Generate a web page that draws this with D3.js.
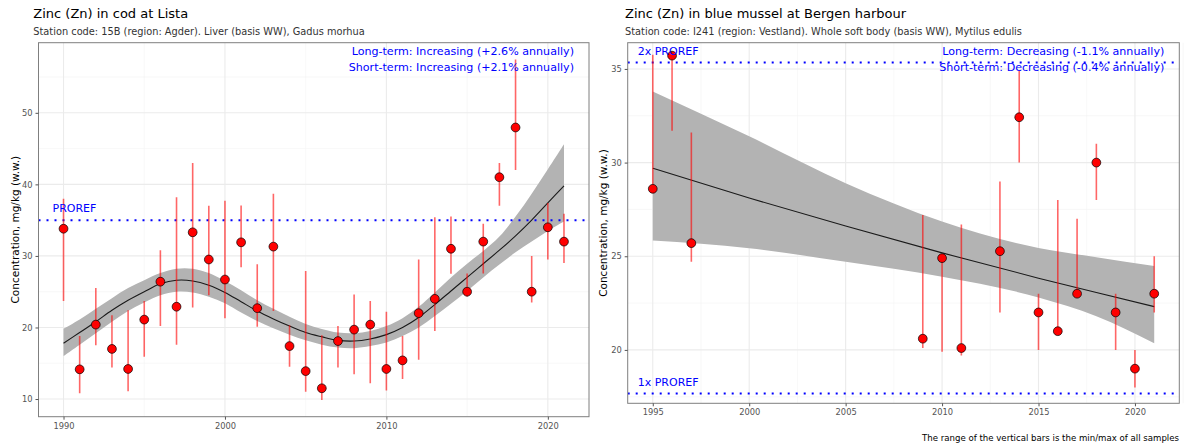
<!DOCTYPE html>
<html>
<head>
<meta charset="utf-8">
<script src="https://cdn.jsdelivr.net/npm/d3@7"></script>
<style>
  html, body { margin: 0; padding: 0; background: #fff; }
  svg { display: block; font-family: "DejaVu Sans", sans-serif; }
</style>
</head>
<body>
<svg id="chart" width="1185" height="445"></svg>
<script>
// ---- Cod, Lista (15B): annual medians with min/max of samples ----
const codYears  = [1990,1991,1992,1993,1994,1995,1996,1997,1998,1999,2000,2001,2002,2003,2004,2005,
                   2006,2007,2008,2009,2010,2011,2012,2013,2014,2015,2016,2017,2018,2019,2020,2021];
const codMedian = [33.8,14.15,20.4,17.0,14.2,21.1,26.4,22.9,33.3,29.5,26.7,31.9,22.7,31.3,17.4,13.9,
                   11.5,18.1,19.7,20.4,14.2,15.4,22.0,24.0,31.0,25.0,32.0,41.0,47.95,25.0,34.0,32.0];
const codMin    = [23.7,10.8,17.5,14.4,11.1,15.9,20.2,17.6,22.8,24.5,21.3,28.4,20.1,22.3,14.5,11.0,
                   9.86,14.4,13.45,12.2,11.2,12.8,15.5,19.5,27.5,24.3,27.55,37.0,42.0,23.5,29.5,29.0];
const codMax    = [38.0,18.8,25.5,21.7,22.4,23.7,30.8,38.2,43.0,37.0,37.7,37.05,28.85,38.7,20.3,27.9,
                   18.9,20.2,24.6,23.7,22.2,18.8,29.5,35.4,35.5,27.55,34.5,43.0,57.45,30.0,37.4,35.9];
// smoothed trend and its confidence band
const codFit    = [17.8,19.3,20.8,22.4,23.8,25.0,26.1,26.6,26.5,25.9,24.9,23.6,22.3,21.2,20.2,19.3,
                   18.7,18.2,18.1,18.4,19.0,20.0,21.4,23.2,25.1,27.0,28.9,30.8,32.8,35.0,37.4,39.8];
const codFitLo  = [16.0,17.6,19.2,20.8,22.3,23.5,24.5,25.0,24.9,24.3,23.4,22.1,20.9,19.9,19.0,18.2,
                   17.6,17.2,17.1,17.4,17.9,18.8,20.0,21.6,23.3,25.1,27.0,28.8,30.5,32.0,33.5,34.8];
const codFitHi  = [19.8,21.1,22.6,24.1,25.5,26.6,27.6,28.2,28.2,27.6,26.5,25.2,23.8,22.6,21.5,20.5,
                   19.8,19.3,19.2,19.5,20.2,21.3,22.9,24.9,27.0,28.9,30.7,32.7,35.5,38.7,42.1,45.6];

// ---- Blue mussel, Bergen harbour (I241) ----
const musYears  = [1995,1996,1997,2009,2010,2011,2013,2014,2015,2016,2017,2018,2019,2020,2021];
const musMedian = [28.6,35.71,25.7,20.6,24.9,20.1,25.27,32.42,22.0,21.0,23.0,30.0,22.0,19.0,23.0];
const musMin    = [28.5,31.7,24.7,20.1,19.9,19.7,22.0,30.0,20.0,20.9,22.9,28.0,20.0,18.0,22.0];
const musMax    = [35.76,35.76,31.6,27.2,24.9,26.7,28.99,34.9,23.0,28.0,27.0,31.0,23.0,20.0,25.0];
const musFitYears = [1995,2000,2005,2010,2015,2018,2021];
const musFit      = [29.70,28.11,26.61,25.18,23.83,23.06,22.31];
const musFitLo    = [25.84,25.43,24.70,23.90,22.80,21.80,20.36];
const musFitHi    = [33.79,31.40,28.90,26.86,25.44,24.95,24.48];

// ---- texts and reference levels ----
const codTitle    = "Zinc (Zn) in cod at Lista";
const codSubtitle = "Station code: 15B (region: Agder). Liver (basis WW), Gadus morhua";
const codTrends   = ["Long-term: Increasing (+2.6% annually)", "Short-term: Increasing (+2.1% annually)"];
const codProref   = [{value: 35.0, label: "PROREF"}];
const codXTicks   = [1990, 2000, 2010, 2020];
const codYTicks   = [10, 20, 30, 40, 50];

const musTitle    = "Zinc (Zn) in blue mussel at Bergen harbour";
const musSubtitle = "Station code: I241 (region: Vestland). Whole soft body (basis WW), Mytilus edulis";
const musTrends   = ["Long-term: Decreasing (-1.1% annually)", "Short-term: Decreasing (-0.4% annually)"];
const musProref   = [{value: 35.34, label: "2x PROREF"}, {value: 17.67, label: "1x PROREF"}];
const musXTicks   = [1995, 2000, 2005, 2010, 2015, 2020];
const musYTicks   = [20, 25, 30, 35];

const yTitle  = "Concentration, mg/kg (w.w.)";
const caption = "The range of the vertical bars is the min/max of all samples";

const svg = d3.select("#chart");
svg.append("rect").attr("width", 1185).attr("height", 445).attr("fill", "#fff");

function panel(cfg) {
  const x = d3.scaleLinear().domain(cfg.xDomain).range([cfg.left, cfg.right]);
  const y = d3.scaleLinear().domain(cfg.yDomain).range([cfg.bottom, cfg.top]);
  const g = svg.append("g");

  // titles
  g.append("text").attr("x", cfg.titleX).attr("y", 18).attr("font-size", 13)
    .attr("fill", "#000").text(cfg.title);
  g.append("text").attr("x", cfg.titleX).attr("y", 34.5).attr("font-size", 9.8)
    .attr("fill", "#333").text(cfg.subtitle);

  // grid
  const grid = g.append("g");
  cfg.xMinor.forEach(v => grid.append("line").attr("x1", x(v)).attr("x2", x(v))
    .attr("y1", cfg.top).attr("y2", cfg.bottom).attr("stroke", "#F4F4F4").attr("stroke-width", 0.6));
  cfg.yMinor.forEach(v => grid.append("line").attr("y1", y(v)).attr("y2", y(v))
    .attr("x1", cfg.left).attr("x2", cfg.right).attr("stroke", "#F4F4F4").attr("stroke-width", 0.6));
  cfg.xTicks.forEach(v => grid.append("line").attr("x1", x(v)).attr("x2", x(v))
    .attr("y1", cfg.top).attr("y2", cfg.bottom).attr("stroke", "#EBEBEB").attr("stroke-width", 1.1));
  cfg.yTicks.forEach(v => grid.append("line").attr("y1", y(v)).attr("y2", y(v))
    .attr("x1", cfg.left).attr("x2", cfg.right).attr("stroke", "#EBEBEB").attr("stroke-width", 1.1));

  const clip = "clip-" + cfg.id;
  svg.append("clipPath").attr("id", clip).append("rect")
    .attr("x", cfg.left).attr("y", cfg.top)
    .attr("width", cfg.right - cfg.left).attr("height", cfg.bottom - cfg.top);
  const plot = g.append("g").attr("clip-path", `url(#${clip})`);

  // confidence band and trend line
  const band = cfg.fitYears.map((yr, i) => ({yr, lo: cfg.fitLo[i], hi: cfg.fitHi[i], v: cfg.fit[i]}));
  plot.append("path").datum(band)
    .attr("d", d3.area().x(d => x(d.yr)).y0(d => y(d.lo)).y1(d => y(d.hi)).curve(cfg.curve))
    .attr("fill", "#B3B3B3");
  plot.append("path").datum(band)
    .attr("d", d3.line().x(d => x(d.yr)).y(d => y(d.v)).curve(cfg.curve))
    .attr("fill", "none").attr("stroke", "#1a1a1a").attr("stroke-width", 1.1);

  // reference levels
  cfg.proref.forEach(p => {
    plot.append("line").attr("x1", cfg.left).attr("x2", cfg.right)
      .attr("y1", y(p.value)).attr("y2", y(p.value))
      .attr("stroke", "#0000FF").attr("stroke-width", 2)
      .attr("stroke-dasharray", "2,6");
    g.append("text").attr("x", cfg.left + cfg.prorefDx).attr("y", y(p.value) - 8)
      .attr("font-size", 11).attr("fill", "#0000FF").text(p.label);
  });

  // min/max bars and medians
  const pts = cfg.years.map((yr, i) => ({yr, med: cfg.median[i], lo: cfg.min[i], hi: cfg.max[i]}));
  plot.selectAll("line.bar").data(pts).enter().append("line").attr("class", "bar")
    .attr("x1", d => x(d.yr)).attr("x2", d => x(d.yr))
    .attr("y1", d => y(d.lo)).attr("y2", d => y(d.hi))
    .attr("stroke", "#FF0000").attr("stroke-opacity", 0.6).attr("stroke-width", 1.6);
  plot.selectAll("circle").data(pts).enter().append("circle")
    .attr("cx", d => x(d.yr)).attr("cy", d => y(d.med)).attr("r", 4.4)
    .attr("fill", "#FF0000").attr("stroke", "#000").attr("stroke-width", 0.7);

  // trend statements
  cfg.trends.forEach((t, i) => g.append("text").attr("x", cfg.right - 15).attr("y", 55 + i * 15.7)
    .attr("text-anchor", "end").attr("font-size", 11.1).attr("fill", "#0000FF").text(t));

  // panel border
  g.append("rect").attr("x", cfg.left).attr("y", cfg.top)
    .attr("width", cfg.right - cfg.left).attr("height", cfg.bottom - cfg.top)
    .attr("fill", "none").attr("stroke", "#7F7F7F").attr("stroke-width", 1);

  // axes
  const xAxis = d3.axisBottom(x).tickValues(cfg.xTicks).tickFormat(d3.format("d")).tickSize(3).tickPadding(3);
  const yAxis = d3.axisLeft(y).tickValues(cfg.yTicks).tickSize(3).tickPadding(3);
  const gx = g.append("g").attr("transform", `translate(0,${cfg.bottom})`).call(xAxis);
  const gy = g.append("g").attr("transform", `translate(${cfg.left},0)`).call(yAxis);
  [gx, gy].forEach(a => {
    a.select(".domain").remove();
    a.selectAll(".tick line").attr("stroke", "#555");
    a.selectAll(".tick text").attr("font-size", 8.3).attr("fill", "#555")
      .attr("font-family", "DejaVu Sans, sans-serif");
  });

  g.append("text").attr("transform", `translate(${cfg.yTitleX},${(cfg.top + cfg.bottom) / 2}) rotate(-90)`)
    .attr("text-anchor", "middle").attr("font-size", 10.5).attr("fill", "#000").text(yTitle);
}

panel({
  id: "cod", left: 38.5, right: 589, top: 42.7, bottom: 416.7, titleX: 33.3, yTitleX: 19, prorefDx: 14,
  xDomain: [1988.45, 2022.55], yDomain: [7.53, 59.8],
  xTicks: codXTicks, yTicks: codYTicks, xMinor: [1995, 2005, 2015], yMinor: [15, 25, 35, 45, 55],
  title: codTitle, subtitle: codSubtitle, trends: codTrends, proref: codProref,
  years: codYears, median: codMedian, min: codMin, max: codMax,
  fitYears: codYears, fit: codFit, fitLo: codFitLo, fitHi: codFitHi, curve: d3.curveCatmullRom
});

panel({
  id: "mus", left: 627.7, right: 1179.3, top: 42.7, bottom: 403.3, titleX: 625, yTitleX: 607, prorefDx: 10,
  xDomain: [1993.7, 2022.3], yDomain: [17.15, 36.40],
  xTicks: musXTicks, yTicks: musYTicks,
  xMinor: [1997.5, 2002.5, 2007.5, 2012.5, 2017.5, 2022.5], yMinor: [17.5, 22.5, 27.5, 32.5],
  title: musTitle, subtitle: musSubtitle, trends: musTrends, proref: musProref,
  years: musYears, median: musMedian, min: musMin, max: musMax,
  fitYears: musFitYears, fit: musFit, fitLo: musFitLo, fitHi: musFitHi, curve: d3.curveMonotoneX
});

svg.append("text").attr("x", 1179).attr("y", 440.5).attr("text-anchor", "end")
  .attr("font-size", 8.6).attr("fill", "#000").text(caption);
</script>
</body>
</html>
